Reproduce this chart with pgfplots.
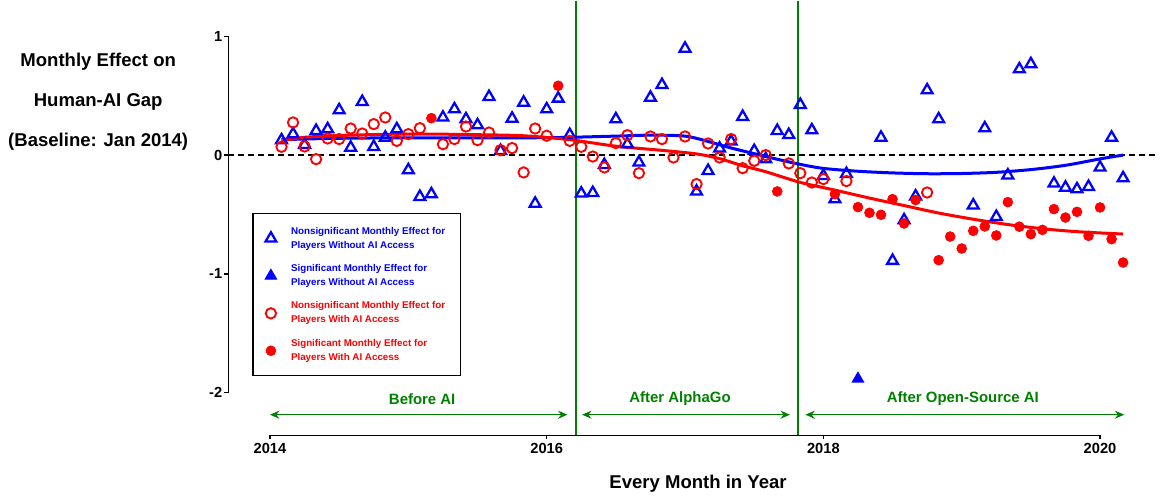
\documentclass[border=0pt]{standalone}
\usepackage{pgfplots}
\pgfplotsset{compat=1.18}
\usepackage{pgfplotstable}
\usepackage{fontspec}
\setmainfont{Liberation Sans}
\usetikzlibrary{arrows.meta}
\definecolor{aigreen}{RGB}{0,128,0}

% x = months since Jan 2014 (baseline), y = monthly effect
\pgfplotstableread{
m y
1 0.126
2 0.177
3 0.087
4 0.205
5 0.219
6 0.379
7 0.064
8 0.449
9 0.070
10 0.148
11 0.219
12 -0.126
13 -0.351
14 -0.329
15 0.317
16 0.387
17 0.303
18 0.253
19 0.491
20 0.036
21 0.308
22 0.443
23 -0.408
24 0.387
25 0.477
26 0.171
27 -0.323
28 -0.318
29 -0.082
30 0.303
31 0.092
32 -0.062
33 0.485
34 0.592
36 0.898
37 -0.306
38 -0.132
39 0.056
40 0.115
41 0.323
42 0.036
43 -0.034
44 0.205
45 0.171
46 0.424
47 0.210
48 -0.174
49 -0.371
50 -0.158
53 0.148
54 -0.890
55 -0.548
56 -0.347
57 0.547
58 0.303
61 -0.423
62 0.227
63 -0.520
64 -0.170
65 0.724
66 0.767
68 -0.239
69 -0.273
70 -0.287
71 -0.267
72 -0.104
73 0.148
74 -0.194
}\bluens

\pgfplotstableread{
m y
51 -1.885
}\bluesig

\pgfplotstableread{
m y
1 0.070
2 0.275
3 0.073
4 -0.034
5 0.140
6 0.135
7 0.224
8 0.182
9 0.261
10 0.317
11 0.120
12 0.177
13 0.227
15 0.092
16 0.135
17 0.241
18 0.126
19 0.190
20 0.042
21 0.059
22 -0.146
23 0.224
24 0.163
26 0.120
27 0.070
28 -0.012
29 -0.104
30 0.101
31 0.168
32 -0.152
33 0.157
34 0.135
35 -0.020
36 0.157
37 -0.244
38 0.098
39 -0.020
40 0.135
41 -0.110
42 -0.048
43 0.000
45 -0.070
46 -0.152
47 -0.231
48 -0.202
50 -0.219
57 -0.315
}\redns

\pgfplotstableread{
m y
14 0.311
25 0.584
44 -0.306
49 -0.329
51 -0.438
52 -0.486
53 -0.503
54 -0.371
55 -0.576
56 -0.379
58 -0.885
59 -0.686
60 -0.787
61 -0.638
62 -0.601
63 -0.677
64 -0.396
65 -0.603
66 -0.666
67 -0.630
68 -0.455
69 -0.526
70 -0.478
71 -0.680
72 -0.441
73 -0.708
74 -0.905
}\redsig

% fitted trends
\pgfplotstableread{
m y
1 0.130
5 0.140
10 0.145
15 0.145
20 0.145
25 0.148
30 0.160
33 0.168
36 0.160
38 0.115
40 0.060
42 0.012
44 -0.035
46 -0.078
48 -0.112
51 -0.136
54 -0.150
57 -0.157
60 -0.155
63 -0.145
66 -0.122
69 -0.086
72 -0.032
74 0.000
}\bluefit

\pgfplotstableread{
m y
1 0.120
3 0.150
6 0.165
10 0.175
14 0.177
18 0.172
22 0.163
26 0.130
30 0.075
34 0.040
37 0.010
39 -0.030
41 -0.090
43 -0.140
46 -0.230
49 -0.295
52 -0.362
55 -0.425
58 -0.488
61 -0.540
64 -0.585
67 -0.620
70 -0.645
74 -0.665
}\redfit

\tikzset{
  tick/.style={black, line width=1.1pt},
  ticklab/.style={inner sep=0pt, font=\fontsize{11}{13}\selectfont\bfseries},
  period/.style={aigreen, line width=1.1pt, {Stealth[length=7pt,width=6pt]}-{Stealth[length=7pt,width=6pt]}},
  periodlab/.style={text=aigreen, font=\fontsize{11.2}{13}\selectfont\bfseries},
}

\begin{document}
\begin{tikzpicture}
\begin{axis}[
  hide axis,
  scale only axis,
  width=697.2pt, height=325.8pt,
  xmin=-3.6, xmax=77.04,
  ymin=-2.36, ymax=1.30,
  clip=false,
  legend cell align=left,
  legend style={at={(axis cs:-1.56,-0.486)}, anchor=north west,
    draw=black, line width=1.2pt, fill=white,
    font=\fontsize{7.35}{10.5}\selectfont\bfseries,
    row sep=6.75pt, inner xsep=9.5pt, inner ysep=8pt,
    /tikz/every odd column/.append style={column sep=9pt},
    cells={anchor=west, align=left}},
]
% frame of the page
\path (-23.42,-2.862) rectangle (77.2,1.30);

% reference lines
\draw[black, line width=1.1pt, dash pattern=on 4.5pt off 3pt] (-3.6,0) -- (77.04,0);
\draw[aigreen, line width=1.2pt] (26.56,-2.36) -- (26.56,1.30);
\draw[aigreen, line width=1.2pt] (45.8,-2.36) -- (45.8,1.30);

% y axis
\draw[tick] (-3.6,-2) -- (-3.6,1);
\draw[tick] (-3.6,-2) -- (-3.95,-2);
\draw[tick] (-3.6,-1) -- (-3.95,-1);
\draw[tick] (-3.6,0) -- (-3.95,0);
\draw[tick] (-3.6,1) -- (-3.95,1);
\node[ticklab, anchor=east] at (-4.12,-2) {-2};
\node[ticklab, anchor=east] at (-4.12,-1) {-1};
\node[ticklab, anchor=east] at (-4.12,0) {0};
\node[ticklab, anchor=east] at (-4.12,1) {1};

% x axis
\draw[tick] (0,-2.36) -- (72,-2.36);
\draw[tick] (0,-2.36) -- (0,-2.395);
\draw[tick] (24,-2.36) -- (24,-2.395);
\draw[tick] (48,-2.36) -- (48,-2.395);
\draw[tick] (72,-2.36) -- (72,-2.395);
\node[ticklab] at (0,-2.474) {2014};
\node[ticklab] at (24,-2.474) {2016};
\node[ticklab] at (48,-2.474) {2018};
\node[ticklab] at (72,-2.474) {2020};

% period arrows
\draw[period] (0,-2.187) -- (25.8,-2.187);
\draw[period] (27.07,-2.187) -- (45.1,-2.187);
\draw[period] (46.44,-2.187) -- (74.1,-2.187);
\node[periodlab] at (13.2,-2.053) {Before AI};
\node[periodlab] at (35.57,-2.053) {After AlphaGo};
\node[periodlab] at (60.1,-2.053) {After Open-Source AI};

% titles
\node[align=center, font=\fontsize{13.9}{30}\selectfont\bfseries] at (-14.9,0.449)
  {Monthly Effect on\\Human-AI Gap\\(Baseline: Jan 2014)};
\node[font=\fontsize{13.9}{16}\selectfont\bfseries] at (37.13,-2.769) {Every Month in Year};

% points
\addplot[only marks, mark=triangle, mark size=4.7pt, draw=blue, line width=1.7pt] table[x=m, y=y] {\bluens};
\addlegendentry[text=blue]{Nonsignificant Monthly Effect for\\Players Without AI Access}
\addplot[only marks, mark=triangle*, mark size=4.7pt, draw=blue, fill=blue, line width=1pt] table[x=m, y=y] {\bluesig};
\addlegendentry[text=blue]{Significant Monthly Effect for\\Players Without AI Access}
\addplot[only marks, mark=o, mark size=3.9pt, draw=red, line width=1.4pt] table[x=m, y=y] {\redns};
\addlegendentry[text=red]{Nonsignificant Monthly Effect for\\Players With AI Access}
\addplot[only marks, mark=*, mark size=3.7pt, draw=red, fill=red, line width=0.5pt] table[x=m, y=y] {\redsig};
\addlegendentry[text=red]{Significant Monthly Effect for\\Players With AI Access}

% trends
\addplot[blue, line width=2.25pt, smooth, forget plot] table[x=m, y=y] {\bluefit};
\addplot[red, line width=2.25pt, smooth, forget plot] table[x=m, y=y] {\redfit};
\end{axis}
\end{tikzpicture}
\end{document}
